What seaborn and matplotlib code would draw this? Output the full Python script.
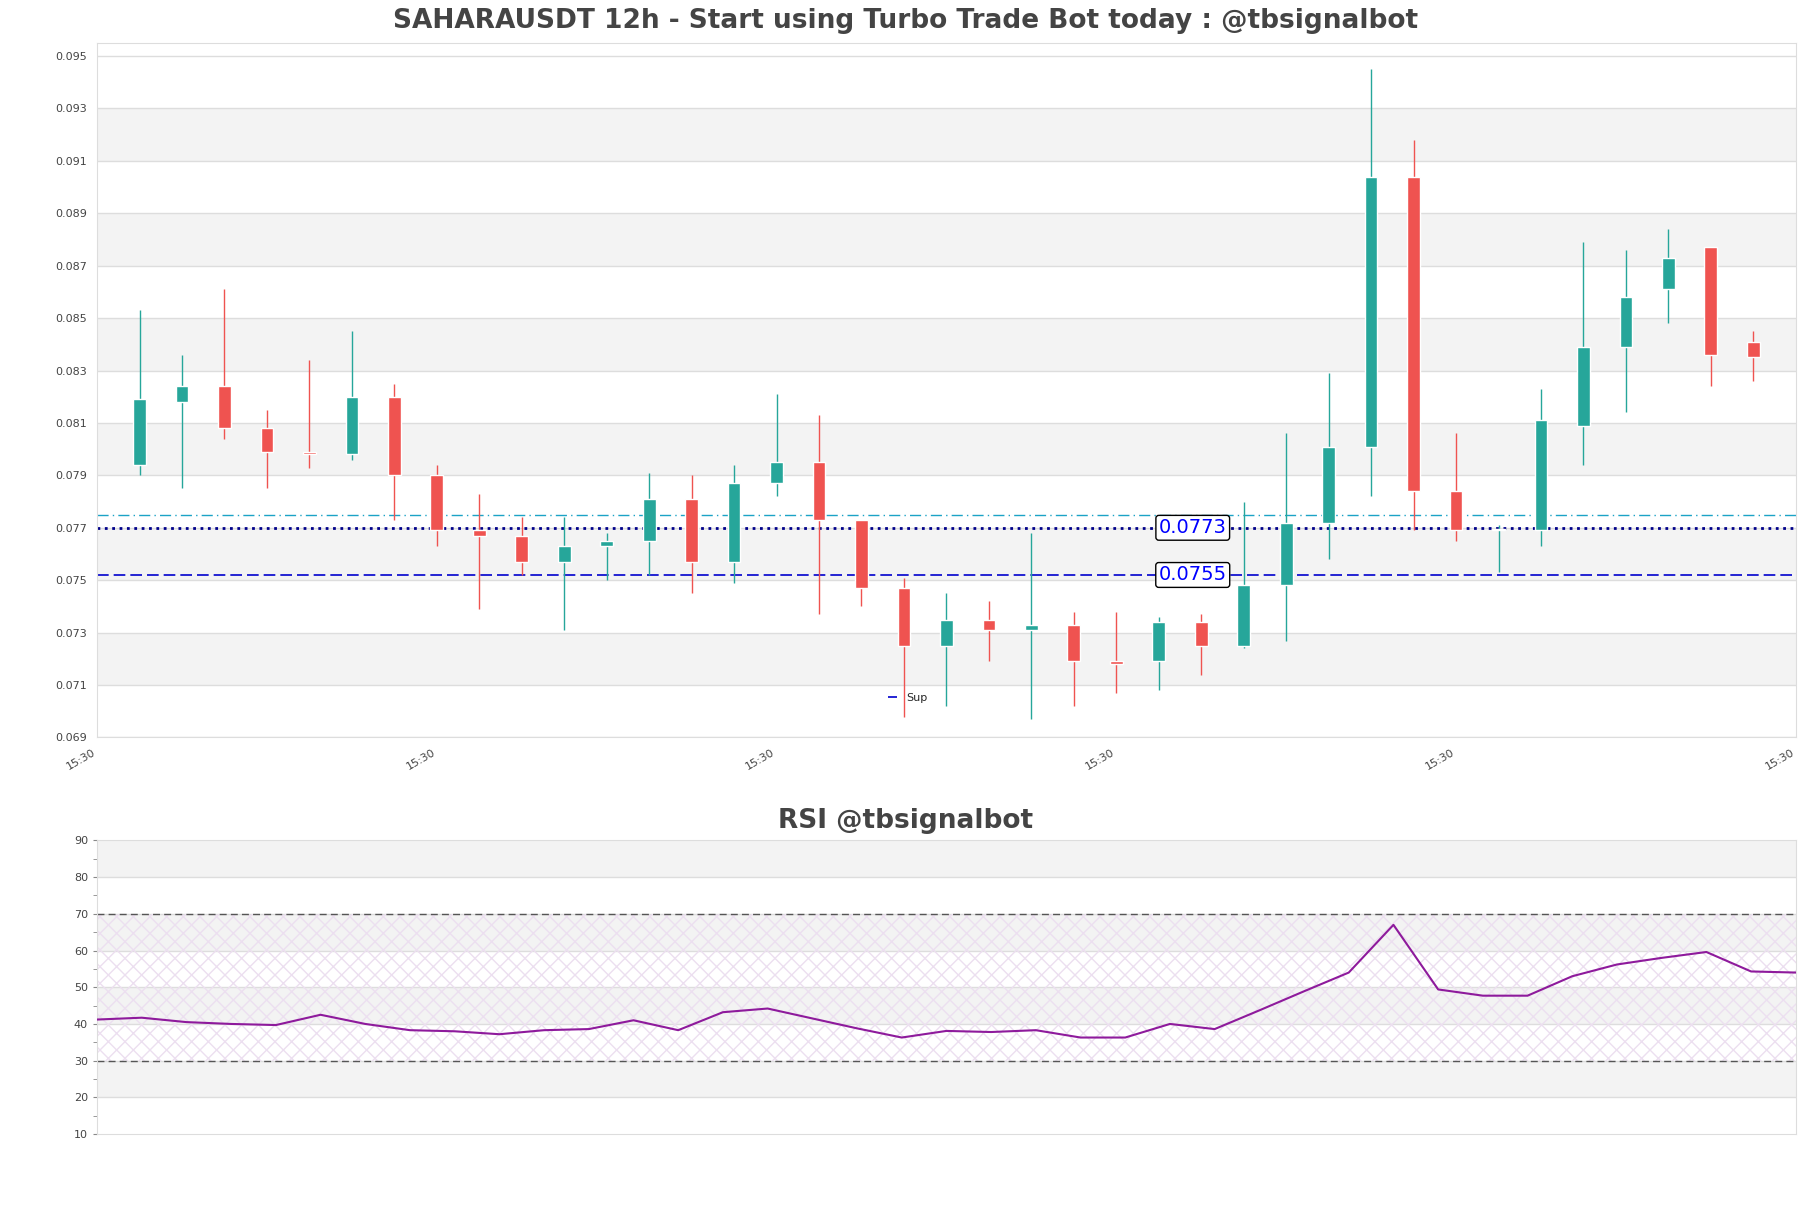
import numpy as np
import pandas as pd
import matplotlib
matplotlib.use("Agg")
import matplotlib.pyplot as plt
import seaborn as sns

opens  = [.0794,.0818,.0824,.0808,.0799,.0798,.0820,.0790,.0769,.0767,.0757,.0763,.0765,.0781,.0757,.0787,.0795,.0773,.0747,.0725,
          .0735,.0731,.0733,.0719,.0719,.0734,.0725,.0748,.0772,.0801,.0904,.0784,.0769,.0769,.0809,.0839,.0861,.0877,.0841]
highs  = [.0853,.0836,.0861,.0815,.0834,.0845,.0825,.0794,.0783,.0774,.0774,.0768,.0791,.0790,.0794,.0821,.0813,.0773,.0751,.0745,
          .0742,.0768,.0738,.0738,.0736,.0737,.0780,.0806,.0829,.0945,.0918,.0806,.0771,.0823,.0879,.0876,.0884,.0877,.0845]
lows   = [.0790,.0785,.0804,.0785,.0793,.0796,.0773,.0763,.0739,.0752,.0731,.0750,.0752,.0745,.0749,.0782,.0737,.0740,.0698,.0702,
          .0719,.0697,.0702,.0707,.0708,.0714,.0724,.0727,.0758,.0782,.0769,.0765,.0753,.0763,.0794,.0814,.0848,.0824,.0826]
closes = [.0819,.0824,.0808,.0799,.0798,.0820,.0790,.0769,.0767,.0757,.0763,.0765,.0781,.0757,.0787,.0795,.0773,.0747,.0725,.0735,
          .0731,.0733,.0719,.0718,.0734,.0725,.0748,.0772,.0801,.0904,.0784,.0769,.0769,.0811,.0839,.0858,.0873,.0836,.0835]
rsi = [41.2,41.7,40.5,40.0,39.7,42.5,40.0,38.3,38.0,37.2,38.3,38.6,41.0,38.3,43.2,44.2,41.5,38.8,36.3,38.1,
       37.8,38.3,36.3,36.3,40.0,38.6,43.7,48.9,54.0,67.0,49.4,47.7,47.7,53.0,56.2,58.0,59.6,54.3,54.0]
x_tick_labels = ["15:30"] * 6
lvl_dashdot = 0.07748
lvl_dotted, lbl_dotted = 0.0770, "0.0773"
lvl_sup, lbl_sup = 0.0752, "0.0755"

sns.set_style("white")
fig = plt.figure(figsize=(18.11, 12.08), dpi=100)
ax = fig.add_axes([0.0536, 0.3895, 0.938, 0.575])
ax2 = fig.add_axes([0.0536, 0.0612, 0.938, 0.2431])

GREEN, RED = "#26a69a", "#ef5350"
n = len(opens)
xs = np.arange(n)
df = pd.DataFrame(dict(x=xs, o=opens, h=highs, l=lows, c=closes))
cols = [GREEN if c >= o else RED for o, c in zip(df.o, df.c)]
ax.vlines(df.x, df.l, df.h, colors=cols, lw=1, zorder=3)
bot = np.minimum(df.o, df.c)
hgt = np.maximum(np.abs(df.c - df.o), 0.00004)
ax.bar(df.x, hgt, bottom=bot, width=0.3, color=cols, zorder=4)

ax.set_xlim(-1, n)
ax.set_ylim(0.069, 0.0955)
yt = np.round(np.arange(0.069, 0.0951, 0.002), 3)
ax.set_yticks(yt)
ax.set_yticklabels([f"{v:.3f}" for v in yt], fontsize=8, color="#444")
for v in yt:
    ax.axhline(v, color="#dddddd", lw=1, zorder=0)
for v in [0.071, 0.075, 0.079, 0.083, 0.087, 0.091]:
    ax.axhspan(v, v + 0.002, color="#f3f3f3", zorder=-1, lw=0)
ax.set_xticks(np.arange(-1, n + 1, 8))
ax.set_xticklabels(x_tick_labels, rotation=30, fontsize=8, color="#444", ha="right")
ax.axhline(lvl_dashdot, color="#1ba3c6", ls=(0, (8, 3, 1, 3)), lw=1)
ax.axhline(lvl_dotted, color="#00008b", ls=":", lw=2)
sup, = ax.plot([-1, n], [lvl_sup, lvl_sup], color="#0000cd", ls=(0, (7, 3)), lw=1.2, label="Sup")
bb = dict(boxstyle="round,pad=0.15", fc="white", ec="black")
ax.text(24.8, lvl_dotted, lbl_dotted, color="blue", fontsize=14, ha="center", va="center", bbox=bb, zorder=6)
ax.text(24.8, lvl_sup, lbl_sup, color="blue", fontsize=14, ha="center", va="center", bbox=bb, zorder=6)
ax.legend(handles=[sup], loc="lower left", bbox_to_anchor=(0.46, 0.035), frameon=False, fontsize=8, handlelength=0.8)
for s in ax.spines.values():
    s.set_color("#dddddd")
fig.text(0.5, 0.972, "SAHARAUSDT 12h - Start using Turbo Trade Bot today : @tbsignalbot",
         fontsize=19, fontweight="bold", color="#444", ha="center", va="bottom")

rdf = pd.DataFrame(dict(x=np.arange(len(rsi)), rsi=rsi))
sns.lineplot(data=rdf, x="x", y="rsi", ax=ax2, color="#8e1a9c", lw=1.5, zorder=5)
ax2.set_xlim(0, len(rsi) - 1)
ax2.set_ylim(10, 90)
ax2.set_yticks(range(10, 91, 10))
ax2.set_yticks(range(15, 90, 10), minor=True)
ax2.tick_params(axis="y", which="both", length=3, labelsize=8, labelcolor="#444", color="#888", left=True)
for v in [20, 40, 60, 80]:
    ax2.axhspan(v, v + 10, color="#f3f3f3", zorder=-1, lw=0)
for v in range(20, 90, 10):
    ax2.axhline(v, color="#dddddd", lw=1, zorder=0)
ax2.fill_between([0, len(rsi) - 1], 30, 70, facecolor="none", hatch="xx", edgecolor="#ecdff0", lw=0, zorder=1)
ax2.axhline(30, color="#555", ls=(0, (5, 3)), lw=1)
ax2.axhline(70, color="#555", ls=(0, (5, 3)), lw=1)
ax2.set_xticks([])
ax2.set_xlabel("")
ax2.set_ylabel("")
for s in ax2.spines.values():
    s.set_color("#dddddd")
fig.text(0.5, 0.31, "RSI @tbsignalbot", fontsize=19, fontweight="bold", color="#444", ha="center", va="bottom")

fig.savefig("out.png", dpi=100)
